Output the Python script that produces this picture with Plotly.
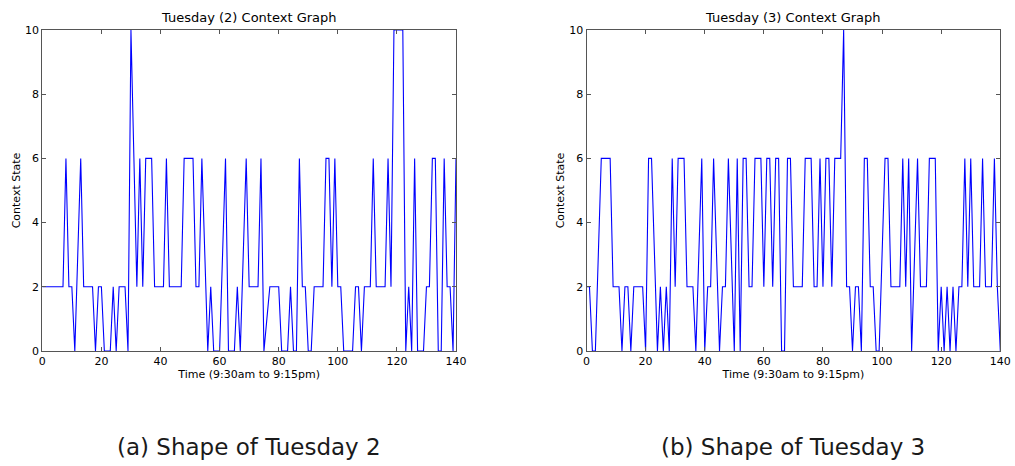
import plotly.graph_objects as go

# ---- data ----
time_idx = list(range(141))

tuesday2 = [
    2, 2, 2, 2, 2, 2, 2, 2, 6, 2,      # 0-9
    2, 0, 3, 6, 2, 2, 2, 2, 0, 2,      # 10-19
    2, 0, 0, 0, 2, 0, 2, 2, 2, 0,      # 20-29
    10, 6, 2, 6, 2, 6, 6, 6, 2, 2,     # 30-39
    2, 2, 6, 2, 2, 2, 2, 2, 6, 6,      # 40-49
    6, 6, 2, 2, 6, 3, 0, 2, 0, 0,      # 50-59
    0, 3, 6, 0, 0, 0, 2, 0, 3, 6,      # 60-69
    2, 2, 2, 2, 6, 0, 1, 2, 2, 2,      # 70-79
    2, 0, 0, 0, 2, 0, 0, 6, 2, 2,      # 80-89
    0, 0, 2, 2, 2, 2, 6, 6, 2, 6,      # 90-99
    2, 2, 0, 0, 0, 0, 2, 2, 0, 2,      # 100-109
    2, 2, 6, 2, 2, 2, 2, 6, 2, 10,     # 110-119
    10, 10, 10, 0, 2, 0, 6, 0, 0, 0,   # 120-129
    2, 2, 6, 6, 0, 0, 6, 2, 2, 0,      # 130-139
    6,                                 # 140
]

tuesday3 = [
    2, 2, 0, 0, 3, 6, 6, 6, 6, 2,      # 0-9
    2, 2, 0, 2, 2, 0, 2, 2, 2, 2,      # 10-19
    0, 6, 6, 3, 0, 2, 0, 2, 0, 6,      # 20-29
    2, 6, 6, 6, 2, 2, 2, 0, 3, 6,      # 30-39
    0, 2, 2, 6, 3, 0, 2, 2, 6, 3,      # 40-49
    0, 6, 0, 6, 6, 2, 2, 6, 6, 6,      # 50-59
    2, 6, 6, 2, 6, 6, 0, 0, 6, 6,      # 60-69
    2, 2, 2, 2, 6, 6, 6, 2, 2, 6,      # 70-79
    2, 6, 6, 2, 6, 6, 6, 10, 2, 2,     # 80-89
    0, 2, 2, 0, 6, 6, 2, 2, 0, 0,      # 90-99
    3, 6, 6, 2, 2, 2, 2, 6, 2, 6,      # 100-109
    0, 3, 6, 2, 2, 2, 6, 6, 6, 0,      # 110-119
    2, 0, 2, 0, 2, 0, 2, 2, 6, 2,      # 120-129
    6, 2, 2, 2, 6, 2, 2, 2, 6, 2,      # 130-139
    0,                                 # 140
]

titles = ["Tuesday (2) Context Graph", "Tuesday (3) Context Graph"]
captions = ["(a) Shape of Tuesday 2", "(b) Shape of Tuesday 3"]
x_label = "Time (9:30am to 9:15pm)"
y_label = "Context State"
x_ticks = [0, 20, 40, 60, 80, 100, 120, 140]
y_ticks = [0, 2, 4, 6, 8, 10]

W, H = 1015, 466
left_dom = [42.3 / W, 456.0 / W]
right_dom = [586.5 / W, 1000.3 / W]
y_dom = [1 - 351.0 / H, 1 - 30.0 / H]

fig = go.Figure()
fig.add_trace(go.Scatter(x=time_idx, y=tuesday2, mode="lines",
                         line=dict(color="#0000ff", width=1.1),
                         xaxis="x", yaxis="y", showlegend=False))
fig.add_trace(go.Scatter(x=time_idx, y=tuesday3, mode="lines",
                         line=dict(color="#0000ff", width=1.1),
                         xaxis="x2", yaxis="y2", showlegend=False))

tick_font = dict(family="DejaVu Sans", size=11, color="#000000")
axis_common = dict(showline=True, linecolor="#555555", linewidth=1,
                   mirror="ticks", ticks="inside", ticklen=4, tickwidth=1,
                   tickcolor="#555555", showgrid=False, zeroline=False,
                   automargin=False, tickfont=tick_font)

fig.update_layout(
    template="none",
    width=W, height=H,
    margin=dict(l=0, r=0, t=0, b=0),
    paper_bgcolor="white", plot_bgcolor="white",
    xaxis=dict(domain=left_dom, range=[0, 140], tickvals=x_ticks,
               anchor="y", title=dict(text=x_label, font=tick_font, standoff=0),
               **axis_common),
    yaxis=dict(domain=y_dom, range=[0, 10], tickvals=y_ticks, anchor="x",
               title=dict(text=y_label, font=tick_font, standoff=2),
               **axis_common),
    xaxis2=dict(domain=right_dom, range=[0, 140], tickvals=x_ticks,
                anchor="y2", title=dict(text=x_label, font=tick_font, standoff=0),
                **axis_common),
    yaxis2=dict(domain=y_dom, range=[0, 10], tickvals=y_ticks, anchor="x2",
                title=dict(text=y_label, font=tick_font, standoff=2),
                **axis_common),
)

title_font = dict(family="DejaVu Sans", size=13, color="#000000")
for dom, t in zip([left_dom, right_dom], titles):
    fig.add_annotation(text=t, x=(dom[0] + dom[1]) / 2, y=y_dom[1],
                       xref="paper", yref="paper", xanchor="center",
                       yanchor="bottom", yshift=3, showarrow=False,
                       font=title_font)

cap_font = dict(family="DejaVu Sans", size=23, color="#1a1a1a")
for dom, c in zip([left_dom, right_dom], captions):
    fig.add_annotation(text=c, x=(dom[0] + dom[1]) / 2, y=1 - 447.0 / H,
                       xref="paper", yref="paper", xanchor="center",
                       yanchor="middle", showarrow=False, font=cap_font)

fig.write_html("out.html")
